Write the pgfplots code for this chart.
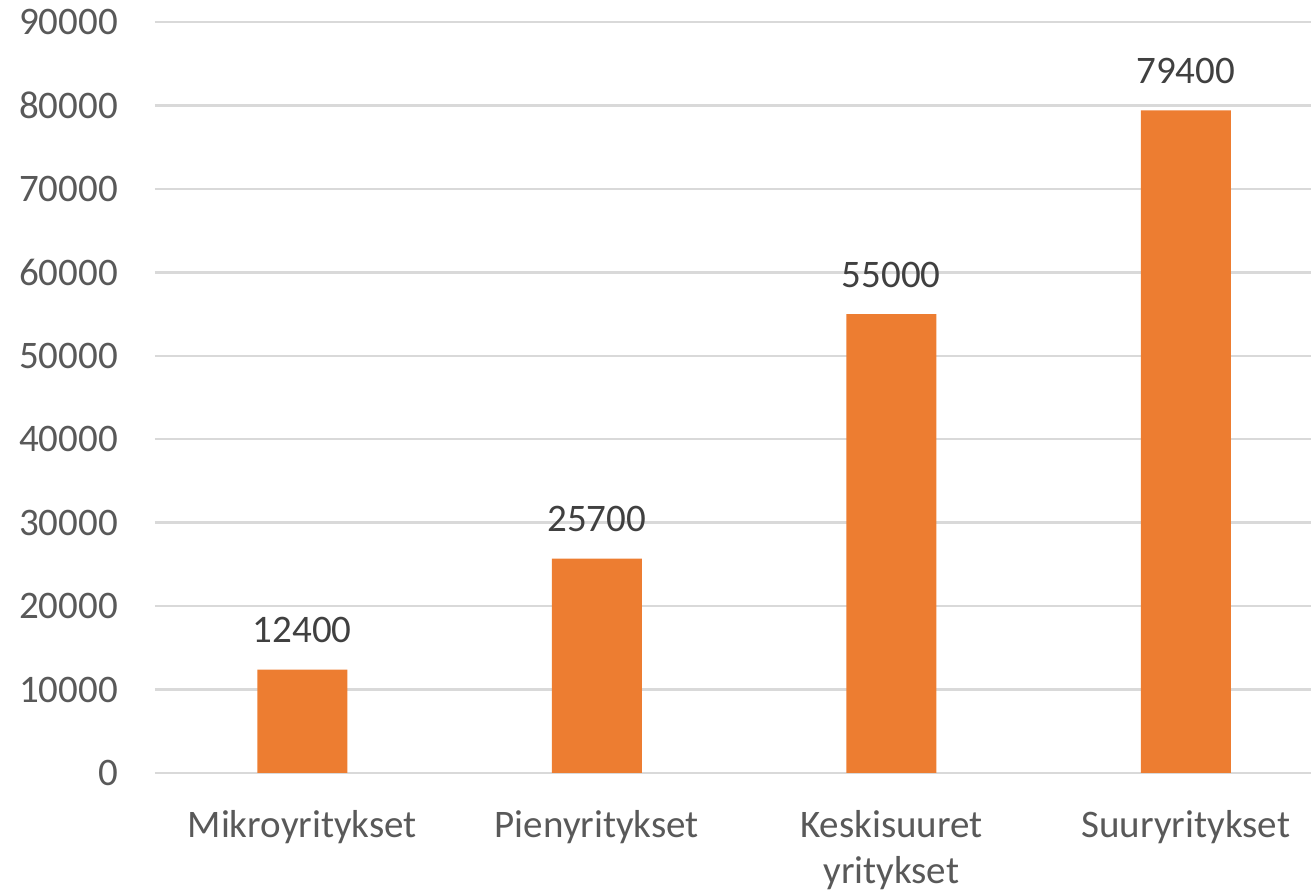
\documentclass[border=0pt]{standalone}
\usepackage{fontspec}
\setmainfont{Carlito}
\usepackage{pgfplots}
\pgfplotsset{compat=1.18}
\definecolor{barorange}{HTML}{ED7D31}
\definecolor{gridgray}{HTML}{D9D9D9}
\definecolor{ticktext}{HTML}{595959}
\definecolor{labeltext}{HTML}{404040}
\begin{document}
\begin{tikzpicture}
\useasboundingbox (-77.5pt,-60pt) rectangle (578pt,386.5pt);
\begin{axis}[
  scale only axis,
  width=578pt, height=375.5pt,
  xmin=-0.5, xmax=3.425,
  ymin=0, ymax=90000,
  ytick={0,10000,...,90000},
  xtick={0,1,2,3},
  xticklabels={Mikroyritykset,Pienyritykset,{Keskisuuret\\yritykset},Suuryritykset},
  xticklabel style={align=center, font=\fontsize{19.5}{23}\selectfont, text=ticktext, yshift=-15pt},
  yticklabel style={font=\fontsize{19.5}{24}\selectfont, text=ticktext, xshift=-15pt},
  /pgf/number format/assume math mode=true,
  scaled y ticks=false,
  yticklabel={\pgfmathprintnumber[fixed,1000 sep={}]{\tick}},
  axis line style={draw=none},
  major tick length=0pt,
  ymajorgrids,
  grid style={gridgray, line width=1.2pt},
  ybar,
  bar width=45pt,
  nodes near coords,
  nodes near coords style={font=\fontsize{19.5}{24}\selectfont, text=labeltext, anchor=south, inner sep=0pt, yshift=13pt, /pgf/number format/fixed, /pgf/number format/1000 sep={}},
  clip=false,
]
\addplot[fill=barorange, draw=none] coordinates {(0,12400) (1,25700) (2,55000) (3,79400)};
\end{axis}
\end{tikzpicture}
\end{document}
